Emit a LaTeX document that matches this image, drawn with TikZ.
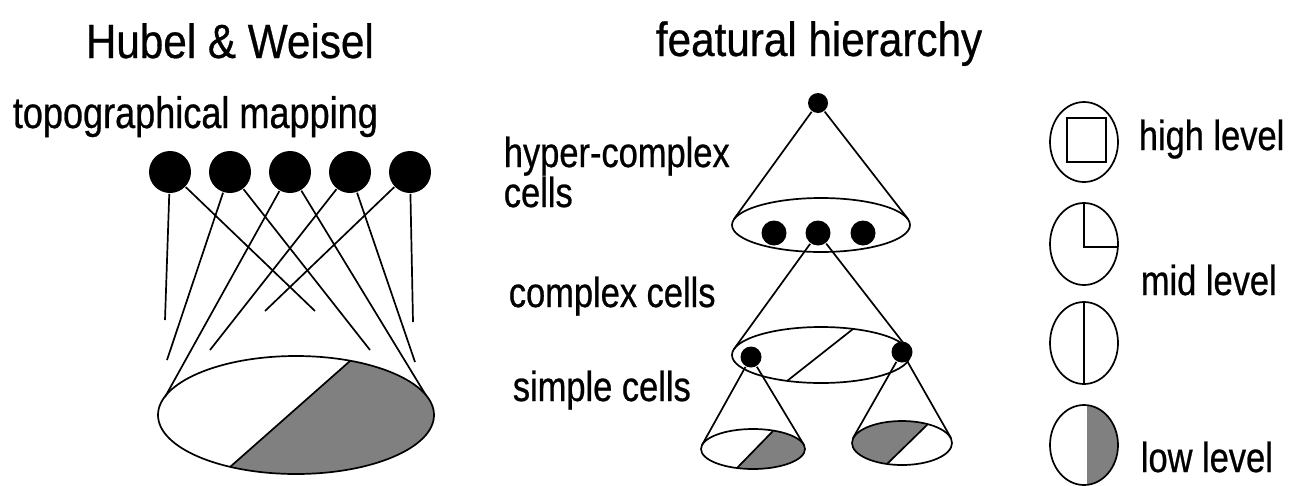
\documentclass[tikz,border=0pt]{standalone}
\usepackage{fontspec}
\setmainfont{Liberation Sans}
\newfontfamily\titlefont[FakeStretch=0.88,FakeBold=0.6]{Liberation Sans}
\newfontfamily\labelfont[FakeStretch=0.82,FakeBold=0.6]{Liberation Sans}
\usepackage{tikz}
\usetikzlibrary{calc}

\begin{document}
\begin{tikzpicture}[x=1pt,y=-1pt,line width=1.7pt,
  cell/.style={circle,fill=black,inner sep=0,minimum size=#1},
  ttl/.style={anchor=base west,inner sep=0,font=\titlefont\fontsize{48}{52}\selectfont},
  lbl/.style={anchor=base west,inner sep=0,align=left,font=\labelfont\fontsize{42}{40}\selectfont},
  grayfill/.style={fill=black!50}]
\useasboundingbox (0,0) rectangle (1290,485);
% Hubel & Weisel
\node[ttl] (hw) at (85,58) {Hubel \& Weisel};
\node[lbl,font=\labelfont\fontsize{44}{40}\selectfont] (topo) at (12,128) {topographical mapping};
\foreach \i/\x in {1/170,2/230,3/290,4/350,5/410}
  \node[cell=42pt] (c\i) at (\x,172) {};
\coordinate (e1) at (165,320);
\coordinate (e2) at (315,311);
\coordinate (e3) at (167,360);
\coordinate (e4) at (370,350);
\coordinate (bw) at (165,397);
\coordinate (be) at (427,397);
\coordinate (e5) at (210,350);
\coordinate (e6) at (415,362);
\coordinate (e7) at (413,322);
\coordinate (e8) at (265,311);
\foreach \a/\b in {c1/e1,c1/e2,c2/e3,c2/e4,c3/bw,c3/be,c4/e5,c4/e6,c5/e7,c5/e8}
  \draw (\a) -- (\b);
\begin{scope}
  \clip (296,415) ellipse [x radius=138, y radius=59];
  \fill[grayfill] (206,488) -- (375,339) -- (440,339) -- (440,488) -- cycle;
\end{scope}
\draw (296,415) ellipse [x radius=138, y radius=59];
\draw (230,467) -- (350,361);
% featural hierarchy
\node[ttl] (fh) at (655,56) {featural hierarchy};
\node[lbl] (hc) at (503,207) {hyper-complex\\cells};
\node[lbl] (cc) at (508,307) {complex cells};
\node[lbl] (sc) at (512,401) {simple cells};
\node[cell=20pt] (top) at (818,103) {};
\draw (821,225) ellipse [x radius=89, y radius=27];
\foreach \i/\x in {1/774,2/818,3/863}
  \node[cell=25pt] (h\i) at (\x,233) {};
\coordinate (t1l) at (734,219);
\coordinate (t1r) at (908,219);
\draw (t1l) -- (top) -- (t1r);
\draw (821,355) ellipse [x radius=89, y radius=28];
\draw (853,329) -- (787,381);
\coordinate (t2l) at (734,349);
\coordinate (t2r) at (908,349);
\draw (t2l) -- (h2) -- (t2r);
\node[cell=21pt] (s1) at (751,357) {};
\node[cell=21pt] (s2) at (902,352) {};
% simple cells
\begin{scope}
  \clip (753,449) ellipse [x radius=52, y radius=20];
  \fill[grayfill] (717,488) -- (793,410) -- (810,410) -- (810,488) -- cycle;
\end{scope}
\draw (753,449) ellipse [x radius=52, y radius=20];
\draw (737,468) -- (773,431);
\coordinate (t3l) at (702,445);
\coordinate (t3r) at (804,445);
\draw (t3l) -- (s1) -- (t3r);
\begin{scope}
  \clip (902,443) ellipse [x radius=50, y radius=22];
  \fill[grayfill] (942,410) -- (862,488) -- (845,488) -- (845,410) -- cycle;
\end{scope}
\draw (902,443) ellipse [x radius=50, y radius=22];
\draw (928,424) -- (887,464);
\coordinate (t4l) at (853,438);
\coordinate (t4r) at (951,438);
\draw (t4l) -- (s2) -- (t4r);
% levels
\draw (1084,142) ellipse [x radius=34, y radius=40];
\draw (1067,118) rectangle (1106,162);
\draw (1084,244) ellipse [x radius=34, y radius=41];
\draw (1084,203) -- (1084,247) -- (1118,247);
\draw (1084,343) ellipse [x radius=34, y radius=41];
\draw (1084,302) -- (1084,384);
\begin{scope}
  \clip (1084,445) ellipse [x radius=34, y radius=40];
  \fill[grayfill] (1087,400) rectangle (1125,490);
\end{scope}
\draw (1084,445) ellipse [x radius=34, y radius=40];
\node[lbl] (hl) at (1138,150) {high level};
\node[lbl] (ml) at (1140,295) {mid level};
\node[lbl] (ll) at (1140,472) {low level};
\end{tikzpicture}
\end{document}
